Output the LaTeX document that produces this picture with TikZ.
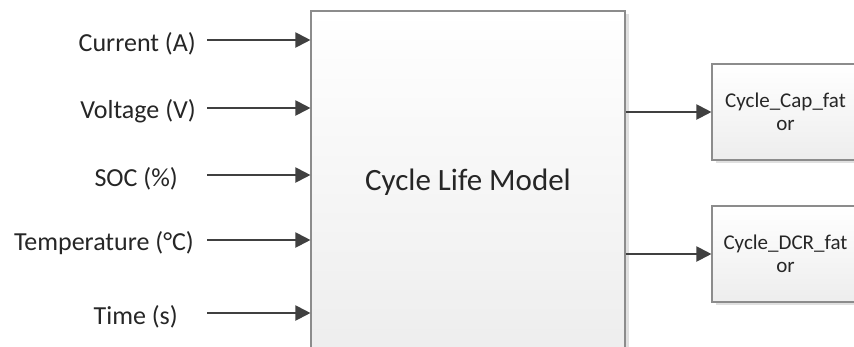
\documentclass[tikz,border=0pt]{standalone}
\usepackage{fontspec}
\setmainfont{Carlito}
\usetikzlibrary{shadows,arrows.meta}

\definecolor{edgegray}{HTML}{8C8C8C}
\definecolor{arrowgray}{HTML}{404040}
\definecolor{txt}{HTML}{262626}

\tikzset{
  block/.style={draw=edgegray, line width=1.1pt, rectangle,
    top color=white, bottom color=black!7, text=txt,
    drop shadow={shadow xshift=3.5pt, shadow yshift=-3pt, fill=black, opacity=0.12}},
  inlabel/.style={anchor=east, inner sep=0pt, text=txt, font=\fontsize{26}{31}\selectfont},
  sig/.style={draw=arrowgray, line width=2pt,
    -{Triangle[length=15pt, width=15pt]}},
}

\begin{document}
\begin{tikzpicture}[x=1pt, y=-1pt]
  \useasboundingbox (0,0) rectangle (854,346);
  \fill[white] (0,0) rectangle (854,346);

  % central model block (runs past the lower edge)
  \node[block, minimum width=314pt, minimum height=343pt,
        font=\fontsize{31}{37}\selectfont] (model) at (468,182.5) {Cycle Life Model};

  % output blocks (run past the right edge)
  \node[block, minimum width=147pt, minimum height=96pt, align=center,
        font=\fontsize{21}{23.5}\selectfont] (cap) at (785.5,112) {Cycle\_Cap\_fat\\or};
  \node[block, minimum width=147pt, minimum height=96pt, align=center,
        font=\fontsize{21}{23.5}\selectfont] (dcr) at (785.5,254) {Cycle\_DCR\_fat\\or};

  % input labels
  \node[inlabel] (cur)  at (196,43.5)  {Current (A)};
  \node[inlabel] (volt) at (196,111.5) {Voltage (V)};
  \node[inlabel] (soc)  at (178,178.5) {SOC (\%)};
  \node[inlabel] (temp) at (194,243.5) {Temperature (°C)};
  \node[inlabel] (time) at (178,316.5) {Time (s)};

  % input arrow tails
  \coordinate (s1) at (207,40);
  \coordinate (s2) at (207,108);
  \coordinate (s3) at (207,175);
  \coordinate (s4) at (207,240);
  \coordinate (s5) at (207,313);

  \foreach \s in {s1,s2,s3,s4,s5}
    \draw[sig] (\s) -- (model.west |- \s);

  % outputs
  \draw[sig] (model.east |- cap.west) -- (cap.west);
  \draw[sig] (model.east |- dcr.west) -- (dcr.west);
\end{tikzpicture}
\end{document}
